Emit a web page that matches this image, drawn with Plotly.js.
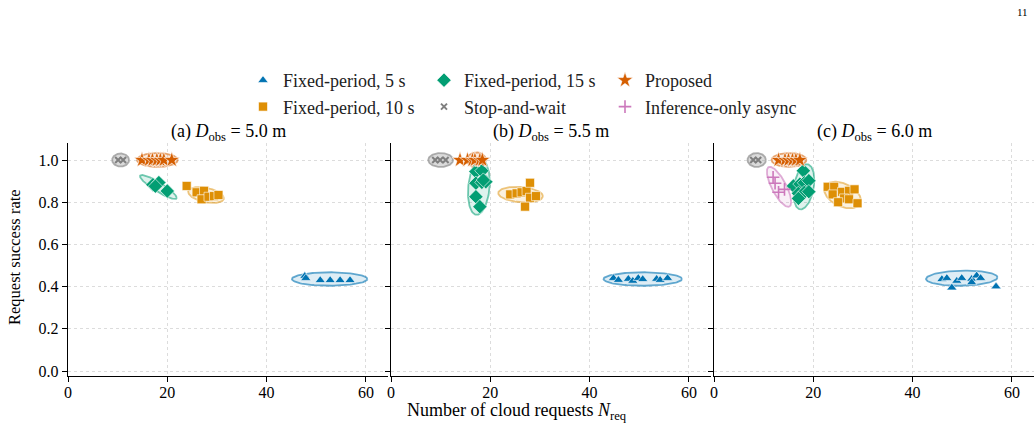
<!DOCTYPE html>
<html>
<head>
<meta charset="utf-8">
<script src="https://cdn.plot.ly/plotly-3.0.1.min.js"></script>
<style>
  html, body { margin: 0; padding: 0; background: #fff; }
  #chart { width: 1035px; height: 430px; }
</style>
</head>
<body>
<div id="chart"></div>
<script>
// Request success rate vs. number of cloud requests, three obstacle distances.
const panelTitles = [
  '(a) <i>D</i><sub>obs</sub> = 5.0 m',
  '(b) <i>D</i><sub>obs</sub> = 5.5 m',
  '(c) <i>D</i><sub>obs</sub> = 6.0 m'
];

const methodNames = ['Fixed-period, 5 s', 'Fixed-period, 10 s', 'Fixed-period, 15 s',
                     'Stop-and-wait', 'Proposed', 'Inference-only async'];

// ---- Panel (a): D_obs = 5.0 m ----
const a_fp5_x  = [47.7, 47.9, 50.8, 52.8, 54.8, 56.8];
const a_fp5_y  = [0.45, 0.44, 0.43, 0.43, 0.43, 0.43];
const a_fp10_x = [23.9, 25.9, 27.4, 26.9, 28.3, 29.4, 30.3];
const a_fp10_y = [0.877, 0.847, 0.854, 0.814, 0.826, 0.829, 0.834];
const a_fp15_x = [17.1, 18.3, 17.6, 20.0];
const a_fp15_y = [0.883, 0.893, 0.876, 0.853];
const a_sw_x   = [10.1, 11.1];
const a_sw_y   = [1.0, 1.0];
const a_pr_x   = [14.9, 16.3, 17.0, 17.9, 18.6, 19.3, 20.9];
const a_pr_y   = [1.0, 1.0, 1.0, 1.0, 1.0, 1.0, 1.0];

// ---- Panel (b): D_obs = 5.5 m ----
const b_fp5_x  = [44.8, 45.8, 47.8, 48.7, 49.8, 50.7, 53.5, 54.2, 55.7];
const b_fp5_y  = [0.44, 0.431, 0.436, 0.427, 0.44, 0.435, 0.436, 0.431, 0.44];
const b_fp10_x = [24.0, 25.3, 26.3, 27.3, 28.0, 28.0, 29.2, 27.0];
const b_fp10_y = [0.837, 0.842, 0.847, 0.853, 0.892, 0.821, 0.829, 0.779];
const b_fp15_x = [17.1, 18.3, 17.1, 18.3, 19.1, 17.1, 17.9, 18.6];
const b_fp15_y = [0.945, 0.949, 0.89, 0.894, 0.897, 0.826, 0.779, 0.905];
const b_sw_x   = [8.9, 9.9, 11.0];
const b_sw_y   = [1.0, 1.0, 1.0];
const b_pr_x   = [13.9, 15.4, 16.4, 16.9, 17.9, 18.4];
const b_pr_y   = [1.0, 1.0, 1.0, 1.0, 1.0, 1.0];

// ---- Panel (c): D_obs = 6.0 m ----
const c_fp5_x  = [45.9, 46.9, 47.9, 48.9, 49.9, 51.9, 51.9, 52.9, 53.7, 56.8];
const c_fp5_y  = [0.435, 0.44, 0.395, 0.427, 0.44, 0.436, 0.42, 0.452, 0.44, 0.40];
const c_fp10_x = [22.9, 24.2, 23.9, 25.8, 27.2, 28.3, 26.2, 25.0, 27.2, 28.9];
const c_fp10_y = [0.873, 0.873, 0.837, 0.849, 0.854, 0.861, 0.818, 0.80, 0.814, 0.795];
const c_fp15_x = [18.0, 16.0, 17.3, 18.2, 19.1, 17.0, 18.2, 19.1, 17.0];
const c_fp15_y = [0.949, 0.877, 0.886, 0.892, 0.902, 0.842, 0.847, 0.85, 0.818];
const c_sw_x   = [7.9, 8.9];
const c_sw_y   = [1.0, 1.0];
const c_pr_x   = [13.0, 14.3, 15.0, 15.8, 16.5, 17.3];
const c_pr_y   = [1.0, 1.0, 1.0, 1.0, 1.0, 1.0];
const c_inf_x  = [11.9, 12.3, 13.0, 14.2];
const c_inf_y  = [0.918, 0.89, 0.847, 0.861];

// Spread ellipses per method: centre (x, y), half-extent (x, y), correlation.
// Order in each array follows methodNames; null where a method has no runs.
const a_ell_cx  = [52.7, 27.8, 18.2, 10.6, 18.0, null];
const a_ell_cy  = [0.436, 0.834, 0.872, 1.0, 1.0, null];
const a_ell_rx  = [7.6, 3.6, 3.7, 1.7, 4.1, null];
const a_ell_ry  = [0.032, 0.038, 0.057, 0.031, 0.033, null];
const a_ell_rho = [0.0, -0.4, -0.9, 0.0, 0.0, null];

const b_ell_cx  = [50.7, 26.1, 17.7, 10.0, 17.2, null];
const b_ell_cy  = [0.436, 0.836, 0.87, 1.0, 1.0, null];
const b_ell_rx  = [7.9, 4.5, 2.2, 2.5, 1.9, null];
const b_ell_ry  = [0.032, 0.037, 0.13, 0.033, 0.036, null];
const b_ell_rho = [0.0, -0.2, 0.2, 0.0, 0.0, null];

const c_ell_cx  = [49.9, 25.9, 18.1, 8.6, 15.1, 13.1];
const c_ell_cy  = [0.44, 0.834, 0.873, 1.0, 1.0, 0.873];
const c_ell_rx  = [7.2, 3.7, 2.1, 1.85, 3.5, 2.45];
const c_ell_ry  = [0.036, 0.063, 0.107, 0.033, 0.033, 0.095];
const c_ell_rho = [0.1, -0.4, 0.3, 0.0, 0.0, -0.75];

// ---- Styling ----
const FONT = 'Liberation Serif, Times New Roman, serif';
const methodColors = ['#0173b2', '#de8f05', '#029e73', '#7f7f7f', '#d55e00', '#cc78bc'];
const ellipseFill  = ['rgba(1,115,178,0.13)', 'rgba(222,143,5,0.13)', 'rgba(2,158,115,0.13)',
                      'rgba(148,148,148,0.35)', 'rgba(213,94,0,0.13)', 'rgba(204,120,188,0.12)'];
const ellipseLine  = ['rgba(1,115,178,0.6)', 'rgba(222,143,5,0.5)', 'rgba(2,158,115,0.55)',
                      'rgba(148,148,148,0.75)', 'rgba(213,94,0,0.55)', 'rgba(204,120,188,0.6)'];
const methodMarkers = [
  {symbol: 'triangle-up', size: 9,  line: {color: '#ffffff', width: 0.6}},
  {symbol: 'square',      size: 9,  line: {color: '#ffffff', width: 0.6}},
  {symbol: 'diamond',     size: 11, line: {color: '#ffffff', width: 0.6}},
  {symbol: 'x-thin',      size: 6,  line: {color: '#7f7f7f', width: 2}},
  {symbol: 'star',        size: 12, line: {color: '#ffffff', width: 0.6}},
  {symbol: 'cross-thin',  size: 9,  line: {color: '#cc78bc', width: 1.6}}
];
// legend columns: (5 s, 10 s), (15 s, Stop-and-wait), (Proposed, Inference-only)
const legendColumn = ['legend', 'legend', 'legend2', 'legend2', 'legend3', 'legend3'];
const legendRank = [1, 2, 1, 2, 1, 2];

const panels = [
  {xs: [a_fp5_x, a_fp10_x, a_fp15_x, a_sw_x, a_pr_x, null],
   ys: [a_fp5_y, a_fp10_y, a_fp15_y, a_sw_y, a_pr_y, null],
   ell: [a_ell_cx, a_ell_cy, a_ell_rx, a_ell_ry, a_ell_rho]},
  {xs: [b_fp5_x, b_fp10_x, b_fp15_x, b_sw_x, b_pr_x, null],
   ys: [b_fp5_y, b_fp10_y, b_fp15_y, b_sw_y, b_pr_y, null],
   ell: [b_ell_cx, b_ell_cy, b_ell_rx, b_ell_ry, b_ell_rho]},
  {xs: [c_fp5_x, c_fp10_x, c_fp15_x, c_sw_x, c_pr_x, c_inf_x],
   ys: [c_fp5_y, c_fp10_y, c_fp15_y, c_sw_y, c_pr_y, c_inf_y],
   ell: [c_ell_cx, c_ell_cy, c_ell_rx, c_ell_ry, c_ell_rho]}
];

function ellipsePoints(cx, cy, rx, ry, rho) {
  const ex = [], ey = [];
  const s = Math.sqrt(1 - rho * rho);
  for (let k = 0; k <= 120; k++) {
    const t = 2 * Math.PI * k / 120;
    ex.push(cx + rx * Math.cos(t));
    ey.push(cy + ry * (rho * Math.cos(t) + s * Math.sin(t)));
  }
  return {ex, ey};
}

const ellipseTraces = [];
const markerTraces = [];
const legendShown = {};

panels.forEach((p, pi) => {
  const xa = pi === 0 ? 'x' : 'x' + (pi + 1);
  const ya = pi === 0 ? 'y' : 'y' + (pi + 1);
  const [cx, cy, rx, ry, rho] = p.ell;
  for (let m = 0; m < methodNames.length; m++) {
    if (!p.xs[m]) continue;
    const e = ellipsePoints(cx[m], cy[m], rx[m], ry[m], rho[m]);
    ellipseTraces.push({
      type: 'scatter', mode: 'lines', x: e.ex, y: e.ey, xaxis: xa, yaxis: ya,
      fill: 'toself', fillcolor: ellipseFill[m],
      line: {color: ellipseLine[m], width: 1.8},
      showlegend: false, hoverinfo: 'skip'
    });
    const show = !legendShown[m];
    legendShown[m] = true;
    markerTraces.push({
      type: 'scatter', mode: 'markers', name: methodNames[m],
      x: p.xs[m], y: p.ys[m], xaxis: xa, yaxis: ya,
      legendgroup: methodNames[m], showlegend: show,
      legend: legendColumn[m], legendrank: legendRank[m],
      marker: Object.assign({color: methodColors[m]}, methodMarkers[m])
    });
  }
});

// ---- Axes ----
const W = 1035, H = 430;
const xDomPx = [[68, 388], [391, 711], [714, 1034]];
const yDom = [(H - 376) / H, (H - 143) / H];
const xRange = [0, 64.45];
const yRange = [-0.0237, 1.0806];

const axisCommon = {
  showline: true, linecolor: '#000', linewidth: 1.3,
  ticks: 'outside', ticklen: 5, tickwidth: 1, tickcolor: '#000',
  showgrid: true, gridcolor: '#dcdcdc', griddash: 'dot', gridwidth: 1,
  zeroline: false, fixedrange: true,
  tickfont: {family: FONT, size: 16, color: '#000'}
};

const legendCommon = {
  orientation: 'v', xanchor: 'left', yanchor: 'middle', y: (H - 93.5) / H,
  font: {family: FONT, size: 18, color: '#222'}, tracegroupgap: 0,
  bgcolor: 'rgba(0,0,0,0)', traceorder: 'normal'
};

const layout = {
  width: W, height: H,
  margin: {l: 0, r: 0, t: 0, b: 0},
  paper_bgcolor: '#fff', plot_bgcolor: '#fff',
  font: {family: FONT, color: '#000'},
  showlegend: true,
  legend:  Object.assign({}, legendCommon, {x: 243 / W}),
  legend2: Object.assign({}, legendCommon, {x: 424 / W}),
  legend3: Object.assign({}, legendCommon, {x: 605 / W}),
  annotations: [],
  hovermode: false
};

xDomPx.forEach((d, i) => {
  const xk = i === 0 ? 'xaxis' : 'xaxis' + (i + 1);
  const yk = i === 0 ? 'yaxis' : 'yaxis' + (i + 1);
  const ya = i === 0 ? 'y' : 'y' + (i + 1);
  const xa = i === 0 ? 'x' : 'x' + (i + 1);
  layout[xk] = Object.assign({}, axisCommon, {
    domain: [d[0] / W, d[1] / W], range: xRange, anchor: ya,
    tickvals: [0, 20, 40, 60], ticktext: ['0', '20', '40', '60'],
    ticklabelstandoff: -4
  });
  layout[yk] = Object.assign({}, axisCommon, {
    domain: yDom, range: yRange, anchor: xa,
    tickvals: [0, 0.2, 0.4, 0.6, 0.8, 1.0],
    ticktext: ['0.0', '0.2', '0.4', '0.6', '0.8', '1.0'],
    showticklabels: i === 0
  });
  layout.annotations.push({
    text: panelTitles[i], xref: 'paper', yref: 'paper',
    x: (d[0] + d[1]) / 2 / W, y: (H - 132) / H, xanchor: 'center', yanchor: 'middle',
    showarrow: false, font: {family: FONT, size: 18, color: '#000'}
  });
});

layout.annotations.push(
  {text: 'Number of cloud requests <i>N</i><sub>req</sub>', xref: 'paper', yref: 'paper',
   x: 517 / W, y: (H - 411) / H, xanchor: 'center', yanchor: 'middle', showarrow: false,
   font: {family: FONT, size: 18, color: '#000'}},
  {text: 'Request success rate', xref: 'paper', yref: 'paper', textangle: -90,
   x: 14 / W, y: (H - 257) / H, xanchor: 'center', yanchor: 'middle', showarrow: false,
   font: {family: FONT, size: 16.5, color: '#000'}},
  {text: '11', xref: 'paper', yref: 'paper', x: 1022 / W, y: (H - 12) / H,
   xanchor: 'center', yanchor: 'middle', showarrow: false,
   font: {family: FONT, size: 11, color: '#000'}}
);

Plotly.newPlot('chart', ellipseTraces.concat(markerTraces), layout,
  {displayModeBar: false, staticPlot: true});
</script>
</body>
</html>
